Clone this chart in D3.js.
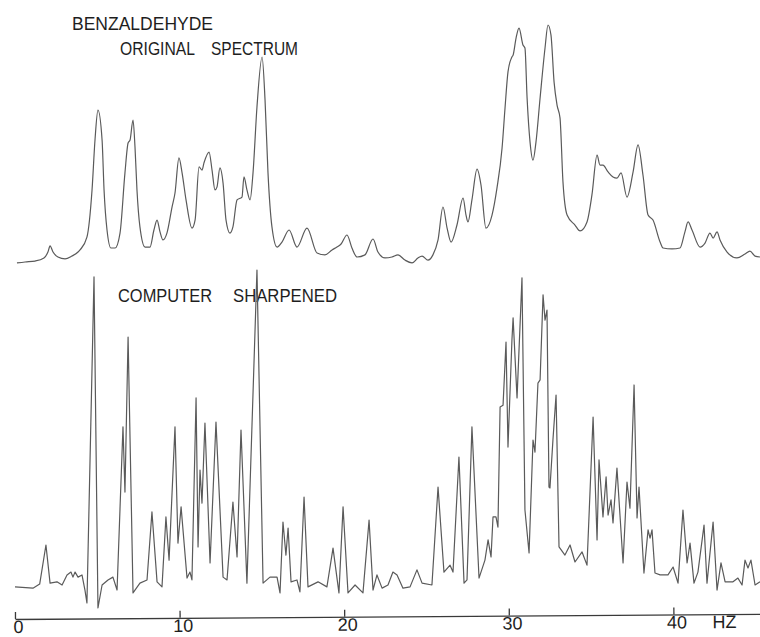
<!DOCTYPE html>
<html>
<head>
<meta charset="utf-8">
<script src="https://cdn.jsdelivr.net/npm/d3@7"></script>
<style>
  html, body { margin: 0; padding: 0; background: #ffffff; }
  svg { display: block; }
  text { font-family: "Liberation Sans", Arial, sans-serif; fill: #1e1e1e; }
</style>
</head>
<body>
<svg id="chart" width="760" height="637"></svg>
<script>
// Benzaldehyde proton spectrum: frequency offset (Hz) and relative intensity (% of tallest peak)
const originalHz = [0.12,0.61,1.22,1.76,2.00,2.13,2.31,2.61,3.04,3.46,3.83,3.95,4.37,4.68,4.86,5.04,5.29,5.41,5.59,5.83,
  6.08,6.38,6.68,6.87,6.99,7.17,7.29,7.41,7.59,7.90,8.20,8.44,8.63,8.81,8.99,9.23,9.54,9.72,9.96,10.15,
  10.39,10.75,10.94,11.18,11.36,11.48,11.79,11.97,12.15,12.27,12.45,12.64,12.82,13.06,13.24,13.49,13.79,13.91,14.09,14.28,
  14.46,14.70,15.01,15.19,15.37,15.61,15.92,16.22,16.65,17.13,17.74,18.35,18.83,19.26,19.56,19.81,20.17,20.47,20.78,21.26,
  21.75,22.05,22.48,22.90,23.27,23.69,24.12,24.48,24.73,25.09,25.39,25.70,26.00,26.25,26.49,26.85,27.22,27.40,27.52,27.76,
  28.07,28.31,28.61,28.98,29.28,29.59,29.77,29.95,30.19,30.26,30.44,30.62,30.86,30.98,31.11,31.29,31.47,31.65,31.90,32.20,
  32.38,32.56,32.75,32.93,33.11,33.29,33.54,34.02,34.33,34.75,35.05,35.36,35.54,35.72,36.03,36.33,36.57,36.82,37.18,37.55,
  37.85,38.15,38.46,38.76,39.19,39.37,39.91,40.40,40.70,40.89,41.13,41.62,41.92,42.22,42.41,42.65,42.83,43.26,43.86,44.35,
  44.65,44.96,45.26];
const originalIntensity = [-0.4,0,0.4,1.7,4.2,6.8,4.2,2.1,1.3,2.5,4.2,5.1,10.5,30.4,51.5,64.1,51.5,30.4,13.5,5.9,
  5.9,12.2,37.6,50.2,51.5,59.9,48.5,30.4,14.8,6.3,6.3,13.5,17.7,12.7,9.3,12.2,23.2,29.1,43.9,37.6,
  26.2,14.3,17.7,40.1,38.8,41.8,46.4,38.8,30.4,31.6,39.7,33.3,17.7,12.2,14.8,26.2,27.4,35.9,30.4,26.2,
  37.6,65.4,86.5,68.4,37.6,14.8,6.3,8.4,13.5,6.3,14.3,3.8,3.0,5.1,6.3,7.6,11.4,5.9,2.1,3.0,
  9.7,4.2,1.7,2.1,3.0,0.8,-0.4,1.7,2.5,0.8,3.0,9.3,23.2,14.3,8.4,15.6,27.0,19.8,16.9,26.2,
  39.2,32.5,14.3,19.8,31.2,48.1,65.0,80.2,86.5,87.3,94.5,98.7,91.6,90.3,69.2,50.6,43.0,50.6,69.2,90.3,
  100,95.8,75.9,66.2,60.8,33.8,19.8,15.6,13.1,16.9,28.3,45.1,40.9,40.9,38.0,35.9,35.4,37.6,27.4,38.0,
  49.4,36.7,19.8,17.7,8.4,5.9,5.5,5.9,12.7,16.9,13.5,6.3,8.0,12.2,10.1,12.7,9.3,4.2,1.7,3.4,
  4.6,2.5,2.1];

const sharpenedHz = [0.00,1.09,1.50,1.88,2.13,2.55,2.86,3.16,3.40,3.52,3.65,3.83,4.07,4.25,4.37,4.80,5.04,5.29,5.65,5.95,
  6.20,6.56,6.68,6.87,7.17,7.59,8.02,8.32,8.63,8.93,9.17,9.36,9.72,9.90,10.09,10.45,10.63,10.75,11.00,11.12,
  11.24,11.36,11.54,11.85,12.21,12.64,12.88,13.24,13.49,13.73,14.09,14.70,15.07,15.49,15.92,16.10,16.28,16.46,16.59,16.77,
  17.13,17.31,17.56,17.80,18.41,18.95,19.32,19.68,19.93,20.23,20.66,21.14,21.51,21.75,21.99,22.30,22.66,22.96,23.21,23.57,
  24.00,24.42,24.73,25.33,25.70,26.06,26.43,26.61,26.97,27.28,27.46,27.76,28.19,28.55,28.74,28.92,29.04,29.22,29.34,29.47,
  29.65,29.83,29.95,30.19,30.26,30.50,30.80,30.98,31.23,31.47,31.59,31.77,31.90,32.08,32.20,32.32,32.44,32.50,32.68,32.87,
  33.05,33.41,33.72,34.02,34.45,34.75,35.12,35.36,35.48,35.72,35.91,36.03,36.21,36.33,36.57,36.94,37.18,37.36,37.61,37.79,
  37.91,38.21,38.46,38.58,38.70,38.88,39.19,39.67,39.98,40.28,40.58,40.83,41.01,41.25,41.49,41.86,42.04,42.41,42.65,42.89,
  43.14,43.62,43.92,44.17,44.35,44.53,44.71,44.96,45.26];
const sharpenedIntensity = [-0.6,-1.0,0.3,12.7,0.6,1.0,0,3.2,4.1,2.5,4.1,2.5,3.2,-1.6,-5.7,97.8,-7.3,0,1.6,2.5,
  -1.6,50.2,29.5,78.7,-2.5,0.6,1.6,23.2,1.0,-0.6,21.6,7.9,50.2,13.3,24.8,2.2,4.1,1.6,59.4,12.1,
  36.5,26.0,51.4,7.0,51.7,2.5,1.6,26.3,8.9,49.2,0.6,100,0.6,2.5,2.5,-2.5,20.0,9.5,18.1,1.0,
  1.6,-2.2,27.9,-0.6,1.0,-0.6,11.7,-2.5,24.8,-2.5,0,-2.5,20.6,-1.6,3.2,-1.0,0,4.1,3.2,-1.0,
  -0.6,4.8,0.6,0,31.1,4.1,6.3,4.1,40.6,0.6,1.6,50.2,2.2,7.9,14.3,8.9,21.6,21.6,18.4,56.5,
  57.1,77.1,43.8,77.8,84.8,59.4,97.5,23.8,10.2,46.0,42.2,64.1,65.1,92.1,84.1,87.3,31.1,30.8,46.0,60.3,
  12.1,9.5,12.7,7.3,10.5,6.3,53.3,14.3,39.7,21.6,34.3,22.2,27.0,19.7,37.1,7.0,32.7,24.4,63.5,21.3,
  31.1,3.8,17.5,14.9,17.5,3.8,3.2,3.2,5.7,0.6,23.8,7.0,13.3,0.6,4.1,19.0,0.6,20.0,-1.6,7.0,
  1.0,1.0,2.2,0,7.9,5.4,7.9,0,1.0];

const hzTicks = [0, 10, 20, 30, 40];
const unitLabel = "HZ";
const unitPosHz = 43.1;
const titleLines = ["BENZALDEHYDE", "ORIGINAL", "SPECTRUM"];
const lowerLabels = ["COMPUTER", "SHARPENED"];

const svg = d3.select("#chart");
const traceColor = "#5a5a5a";

// shared frequency axis
const x = d3.scaleLinear().domain([0, 45.26]).range([15, 760]);

// two stacked intensity scales, one per trace
const yTop = d3.scaleLinear().domain([0, 100]).range([262, 25]);
const yBottom = d3.scaleLinear().domain([0, 100]).range([585, 270]);

const original = originalHz.map((h, i) => ({ hz: h, v: originalIntensity[i] }));
const sharpened = sharpenedHz.map((h, i) => ({ hz: h, v: sharpenedIntensity[i] }));

// labels first, so traces run across them
const label = (t, xPos, yPos, len) => svg.append("text")
  .attr("x", xPos).attr("y", yPos)
  .attr("font-size", 18)
  .attr("textLength", len).attr("lengthAdjust", "spacingAndGlyphs")
  .text(t);

label(titleLines[0], 72, 30, 141);
label(titleLines[1], 120, 55, 75);
label(titleLines[2], 211, 55, 87);
label(lowerLabels[0], 118, 302, 94);
label(lowerLabels[1], 233, 302, 104);

svg.append("path")
  .datum(original)
  .attr("fill", "none")
  .attr("stroke", traceColor)
  .attr("stroke-width", 1.2)
  .attr("stroke-linejoin", "round")
  .attr("d", d3.line().x(d => x(d.hz)).y(d => yTop(d.v)).curve(d3.curveMonotoneX));

svg.append("path")
  .datum(sharpened)
  .attr("fill", "none")
  .attr("stroke", traceColor)
  .attr("stroke-width", 1.2)
  .attr("stroke-linejoin", "round")
  .attr("d", d3.line().x(d => x(d.hz)).y(d => yBottom(d.v)).curve(d3.curveLinear));

// frequency axis: ticks point up, labels below; the paper sits at a slight tilt
const axisY = 619;
const axisG = svg.append("g")
  .attr("transform", `rotate(-0.4, ${x(0)}, ${axisY}) translate(0, ${axisY})`)
  .call(d3.axisBottom(x).tickValues(hzTicks).tickSizeInner(-7).tickSizeOuter(0).tickFormat(d3.format("d")));

axisG.select(".domain").attr("stroke", "#3a3a3a").attr("stroke-width", 1.3);
axisG.selectAll(".tick line").attr("stroke", "#3a3a3a").attr("stroke-width", 1.3);
axisG.selectAll(".tick text")
  .attr("y", 14).attr("dy", 0).attr("dx", 3)
  .attr("font-size", 18)
  .attr("font-family", "Liberation Sans, Arial, sans-serif")
  .attr("fill", "#1e1e1e");

axisG.append("text")
  .attr("x", x(unitPosHz)).attr("y", 14)
  .attr("text-anchor", "middle")
  .attr("font-size", 18)
  .attr("fill", "#1e1e1e")
  .text(unitLabel);
</script>
</body>
</html>
